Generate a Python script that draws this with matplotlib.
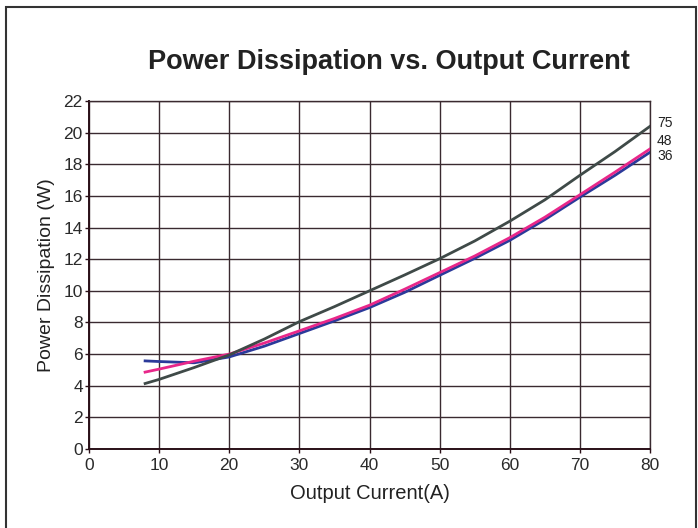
import matplotlib
matplotlib.use("Agg")
import matplotlib.pyplot as plt
from matplotlib.patches import Rectangle

plt.rcParams['font.family'] = ['Liberation Sans', 'DejaVu Sans']

current = [8, 10, 15, 20, 25, 30, 35, 40, 45, 50, 55, 60, 65, 70, 75, 80]
p75 = [4.14, 4.4, 5.15, 5.95, 6.95, 8.05, 9.0, 10.0, 11.0, 12.03, 13.15, 14.4, 15.75, 17.3, 18.8, 20.4]
p48 = [4.86, 5.05, 5.55, 6.0, 6.7, 7.47, 8.25, 9.09, 10.1, 11.15, 12.2, 13.36, 14.65, 16.07, 17.5, 18.97]
p36 = [5.57, 5.53, 5.45, 5.82, 6.5, 7.3, 8.1, 8.94, 9.9, 10.98, 12.05, 13.19, 14.5, 15.92, 17.3, 18.76]
series_labels = ["75", "48", "36"]
label_y = [20.63, 19.5, 18.5]
x_ticks = list(range(0, 81, 10))
y_ticks = list(range(0, 23, 2))

fig = plt.figure(figsize=(6.98, 5.28), dpi=100)
ax = fig.add_axes([89/698, 1 - 449/528, (650-89)/698, (449-101)/528])

grid_c = '#3a2a30'
ax.set_xlim(0, 80)
ax.set_ylim(0, 22)
ax.set_xticks(x_ticks)
ax.set_yticks(y_ticks)
ax.grid(True, color=grid_c, linewidth=1.0)
ax.set_axisbelow(True)
for s in ax.spines.values():
    s.set_color(grid_c)
    s.set_linewidth(1.0)
ax.spines['left'].set_color('#2a1018')
ax.spines['bottom'].set_color('#2a1018')
ax.spines['left'].set_linewidth(1.4)
ax.spines['bottom'].set_linewidth(1.4)
ax.tick_params(axis='both', direction='out', length=3, width=1, color='#2a1018',
               labelsize=12.5, labelcolor='#2a2a2a', pad=1.5)
ax.tick_params(axis='x', pad=3.5)

ax.plot(current, p36, color='#2b3a9a', linewidth=2.0, zorder=3)
ax.plot(current, p48, color='#e8278a', linewidth=2.0, zorder=4)
ax.plot(current, p75, color='#3f4a48', linewidth=2.0, zorder=5)

for lab, ly in zip(series_labels, label_y):
    ax.text(81.0, ly, lab, fontsize=10, color='#222222', va='center', ha='left',
            clip_on=False)

ax.set_xlabel('Output Current(A)', fontsize=14.5, color='#222222', labelpad=8)
ax.set_ylabel('Power Dissipation (W)', fontsize=14, color='#222222', labelpad=6)
fig.text(0.557, 1 - 62/528, 'Power Dissipation vs. Output Current', fontsize=19.5,
         fontweight='bold', ha='center', va='center', color='#222222')

fig.patches.append(Rectangle((6/698, -0.02), (696-6)/698, (528-7)/528 + 0.02,
                             transform=fig.transFigure, fill=False,
                             edgecolor='#333333', linewidth=1.5))

fig.savefig('out.png', dpi=100)
